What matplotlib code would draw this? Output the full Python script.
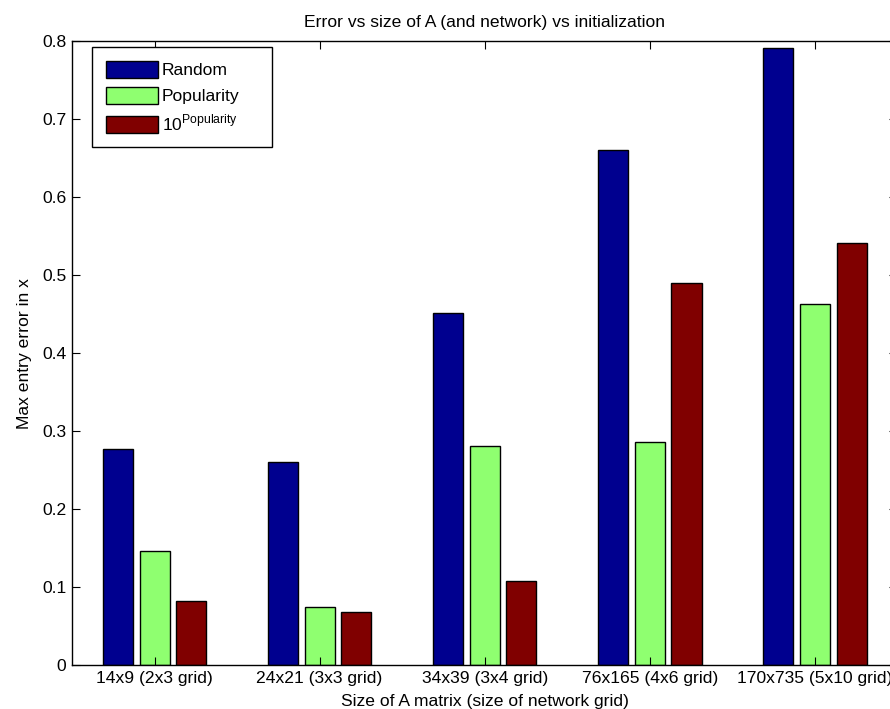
import numpy as np
import matplotlib
matplotlib.use('Agg')
import matplotlib.pyplot as plt

plt.rcParams['font.family'] = ['Liberation Sans', 'DejaVu Sans']
plt.rcParams['mathtext.fontset'] = 'custom'
plt.rcParams['mathtext.rm'] = 'Liberation Sans'

# max entry error per matrix size, for each initialization
sizes = ['14x9 (2x3 grid)', '24x21 (3x3 grid)', '34x39 (3x4 grid)',
         '76x165 (4x6 grid)', '170x735 (5x10 grid)']
err_random = [0.277, 0.261, 0.452, 0.661, 0.792]
err_popularity = [0.146, 0.075, 0.281, 0.286, 0.463]
err_pow10 = [0.082, 0.068, 0.108, 0.490, 0.541]

series = [
    ('Random', err_random, '#00008f'),
    ('Popularity', err_popularity, '#8fff70'),
    (r'$10^{\mathrm{Popularity}}$', err_pow10, '#800000'),
]

fig = plt.figure(figsize=(8.9, 7.09), dpi=100)
ax = fig.add_axes([0.0809, 0.0616, 0.9275, 0.8801])

x = np.arange(1, len(sizes) + 1)
w = 0.182
offsets = [-0.222, 0.0, 0.222]
for (name, vals, col), off in zip(series, offsets):
    ax.bar(x + off, vals, w, color=col, edgecolor='black', linewidth=1.0,
           label=name)

fs = 12.6
ax.set_xlim(0.5, 5.5)
ax.set_ylim(0, 0.8)
ax.set_xticks(x)
ax.set_xticklabels(sizes, fontsize=fs)
ax.set_yticks(np.arange(0, 0.81, 0.1))
ax.set_yticklabels(['0', '0.1', '0.2', '0.3', '0.4', '0.5', '0.6', '0.7', '0.8'],
                   fontsize=fs)
ax.tick_params(direction='in', length=6, width=0.8, top=True, right=True,
               pad=4)
for s in ax.spines.values():
    s.set_linewidth(1.0)

ax.set_title('Error vs size of A (and network) vs initialization',
             fontsize=fs, pad=10.5)
ax.set_xlabel('Size of A matrix (size of network grid)', fontsize=fs,
              labelpad=5.5)
ax.set_ylabel('Max entry error in x', fontsize=fs, labelpad=7)

leg = ax.legend(loc='upper left', bbox_to_anchor=(0.0242, 0.991),
                borderaxespad=0, fontsize=fs, fancybox=False,
                edgecolor='black', framealpha=1, handlelength=2.95,
                handleheight=1.1, handletextpad=0.25, labelspacing=0.48,
                borderpad=0.8)
frame = leg.get_frame()
frame.set_linewidth(1.0)

# leave some extra room on the right side of the legend box
_set_bounds = frame.set_bounds
def wide_bounds(*args):
    l, b, wd, h = args[0] if len(args) == 1 else args
    _set_bounds(l, b, wd + 18, h)
frame.set_bounds = wide_bounds

fig.savefig('out.png', dpi=100)
